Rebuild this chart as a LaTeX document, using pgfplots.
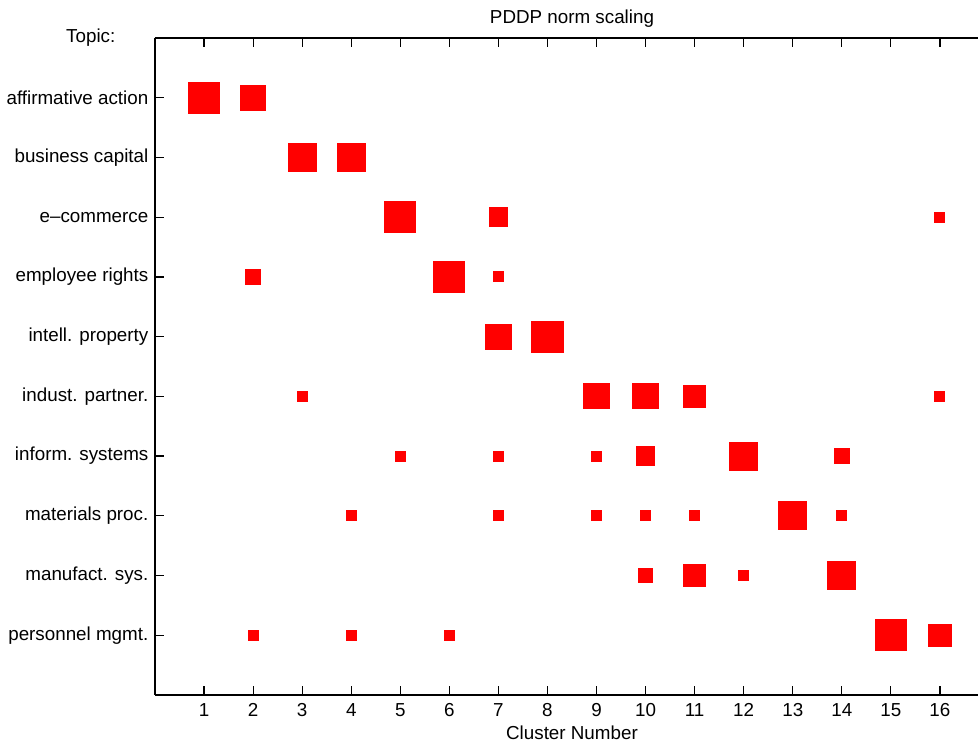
\documentclass[border=0pt]{standalone}
\usepackage{fontspec}
\setmainfont{Liberation Sans}
\usepackage{pgfplots}
\pgfplotsset{compat=1.18}

\begin{document}
\fontsize{9.4}{11}\selectfont
\begin{tikzpicture}
\begin{axis}[
    name=ax,
    scale only axis,
    width=417pt,
    height=328.5pt,
    xmin=0, xmax=17,
    ymin=0, ymax=11,
    y dir=reverse,
    xtick={1,...,16},
    ytick={0,...,10},
    yticklabels={Topic:\hspace*{16.5pt}, affirmative action, business capital, e\textendash commerce,
        employee rights, intell. property, indust. partner., inform. systems,
        materials proc., manufact. sys., personnel mgmt.},
    tick align=inside,
    xtick pos=both,
    ytick pos=left,
    xticklabel pos=bottom,
    major tick length=4.3pt,
    tick style={black, line width=0.6pt},
    axis line style={line width=0.8pt},
    axis x line*=box,
    separate axis lines,
    axis y line*=left,
    /pgf/number format/assume math mode=true,
    tick label style={font=\fontsize{9.4}{11}\selectfont},
    xticklabel style={yshift=-1pt},
    title={PDDP norm scaling},
    title style={font=\fontsize{9.4}{11}\selectfont, yshift=-4pt},
    xlabel={Cluster Number},
    xlabel style={font=\fontsize{9.4}{11}\selectfont, yshift=2pt},
    clip=false,
    every axis plot/.append style={only marks, mark=square*, color=red,
        mark options={line width=0pt, draw=red, fill=red}},
]
% largest
\addplot[mark size=7.8pt] coordinates {(1,1) (5,3) (6,4) (8,5) (15,10)};
\addplot[mark size=7.0pt] coordinates {(3,2) (4,2) (12,7) (13,8) (14,9)};
\addplot[mark size=6.3pt] coordinates {(2,1) (7,5) (9,6) (10,6)};
\addplot[mark size=5.6pt] coordinates {(11,6) (11,9) (16,10)};
\addplot[mark size=4.6pt] coordinates {(7,3) (10,7)};
\addplot[mark size=3.6pt] coordinates {(2,4) (14,7) (10,9)};
% smallest
\addplot[mark size=2.5pt] coordinates {
    (16,3) (7,4) (3,6) (16,6) (5,7) (7,7) (9,7)
    (4,8) (7,8) (9,8) (10,8) (11,8) (14,8)
    (12,9) (2,10) (4,10) (6,10)};
\coordinate (bl) at (axis cs:0,11);
\coordinate (tr) at (axis cs:16.776,0);
\end{axis}
\pgfresetboundingbox
\path ([xshift=-77.5pt,yshift=-23.5pt]bl) rectangle ([yshift=19pt]tr);
\end{tikzpicture}
\end{document}
